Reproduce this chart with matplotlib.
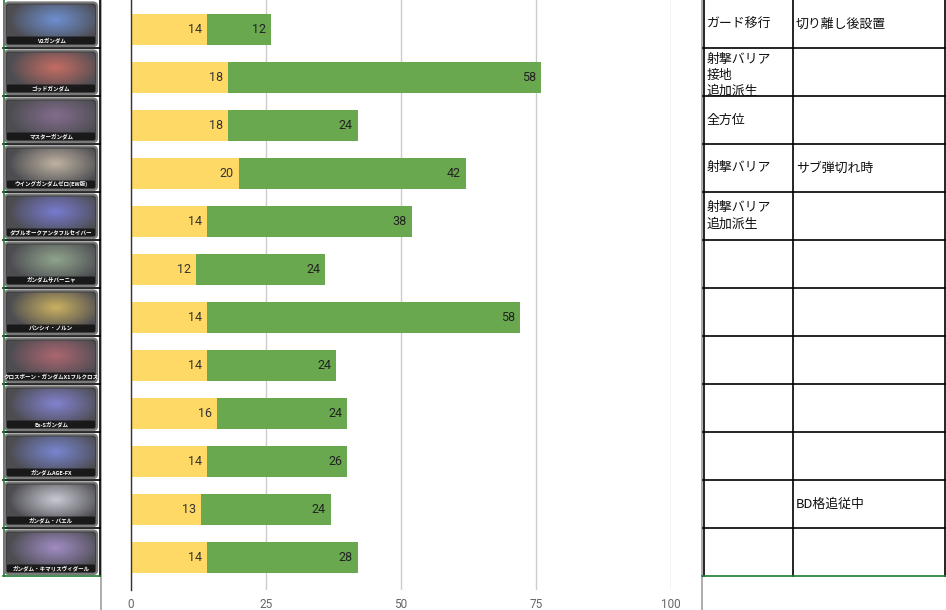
import numpy as np
import matplotlib
matplotlib.use("Agg")
import matplotlib.pyplot as plt
from matplotlib.patches import FancyBboxPatch
from matplotlib.transforms import Bbox

# ---------------- data ----------------
units = ["V2ガンダム", "ゴッドガンダム", "マスターガンダム", "ウイングガンダムゼロ(EW版)",
         "ダブルオークアンタフルセイバー", "ガンダムサバーニャ", "バンシィ・ノルン",
         "クロスボーン・ガンダムX1フルクロス", "Ex-Sガンダム", "ガンダムAGE-FX",
         "ガンダム・バエル", "ガンダム・キマリスヴィダール"]
yellow_vals = [14, 18, 18, 20, 14, 12, 14, 14, 16, 14, 13, 14]
green_vals = [12, 58, 24, 42, 38, 24, 58, 24, 24, 26, 24, 28]
x_ticks = [0, 25, 50, 75, 100]
note_col1 = ["ガード移行", "射撃バリア\n接地\n追加派生", "全方位", "射撃バリア", "射撃バリア\n追加派生",
             "", "", "", "", "", "", ""]
note_col2 = ["切り離し後設置", "", "", "サブ弾切れ時", "", "", "", "", "", "", "BD格追従中", ""]

# thumbnail tints (style only)
tints = ["#3b6fd0", "#c0392b", "#5a3a6a", "#b7a48a", "#4a4fd0", "#6f8f6a",
         "#c9a227", "#9a3040", "#5a5ad0", "#4a60d0", "#c8c8d8", "#8a6ac0"]

W, H = 946, 610
fig = plt.figure(figsize=(W / 100, H / 100), dpi=100)
fig.patch.set_facecolor("white")

YELLOW = "#FFD966"
GREEN = "#6AA84F"
ROW = 48.0
n = len(units)

# ---------------- bar chart ----------------
ax_left, ax_right, ax_top, ax_bot = 131, 671, 0, 590
ax = fig.add_axes([ax_left / W, (H - ax_bot) / H, (ax_right - ax_left) / W, (ax_bot - ax_top) / H])
ax.set_xlim(0, 100)
ytop = -29.5 / ROW
ax.set_ylim(ytop + (ax_bot - ax_top) / ROW, ytop)
ypos = np.arange(n)
bh = 31 / ROW
ax.barh(ypos, yellow_vals, height=bh, color=YELLOW, zorder=2)
ax.barh(ypos, green_vals, left=yellow_vals, height=bh, color=GREEN, zorder=2)
for i in range(n):
    ax.annotate(str(yellow_vals[i]), (yellow_vals[i], ypos[i]), xytext=(-3.6, 0),
                textcoords="offset points", ha="right", va="center",
                fontsize=9, color="#333333", family="Roboto", zorder=3)
    tot = yellow_vals[i] + green_vals[i]
    ax.annotate(str(green_vals[i]), (tot, ypos[i]), xytext=(-3.6, 0),
                textcoords="offset points", ha="right", va="center",
                fontsize=9, color="#222222", family="Roboto", zorder=3)
ax.set_xticks(x_ticks)
ax.set_xticklabels([str(t) for t in x_ticks], fontsize=8.5, color="#666666", family="Roboto")
ax.tick_params(axis="x", length=0, pad=6)
ax.set_yticks([])
for s in ["top", "right", "bottom"]:
    ax.spines[s].set_visible(False)
ax.spines["left"].set_color("#333333")
ax.spines["left"].set_linewidth(1)
ax.grid(axis="x", color="#cccccc", linewidth=1, zorder=0)
ax.set_axisbelow(True)
ax.set_facecolor("none")

# ---------------- overlay (tables) ----------------
ov = fig.add_axes([0, 0, 1, 1])
ov.set_xlim(0, W)
ov.set_ylim(H, 0)
ov.axis("off")
ov.set_facecolor("none")

# chart frame borders (gray)
ov.plot([100.5, 100.5], [0, H], color="#9e9e9e", lw=1.2)
ov.plot([701.5, 701.5], [0, H], color="#9e9e9e", lw=1.2)

table_bottom = ROW * n
# left table
for k in range(1, n):
    ov.plot([3, 100], [ROW * k, ROW * k], color="black", lw=1.2)
ov.plot([99.5, 99.5], [0, table_bottom], color="black", lw=1.2)
ov.plot([3.5, 3.5], [0, table_bottom], color="#1e7b34", lw=1.2)
ov.plot([3, 100], [table_bottom, table_bottom], color="#1e7b34", lw=1.2)

# thumbnails
yy, xx = np.mgrid[0:40, 0:92]
for i in range(n):
    top = ROW * i
    x0, x1 = 5, 97
    y0, y1 = top + 2.5, top + 46
    frame = FancyBboxPatch((x0, y0), x1 - x0, y1 - y0,
                           boxstyle="round,pad=0,rounding_size=4",
                           facecolor="#3a3a3a", edgecolor="#7a7a7a", lw=1.6, zorder=4)
    ov.add_patch(frame)
    tint = np.array(matplotlib.colors.to_rgb(tints[i]))
    cx, cy = 50, 15
    d = np.sqrt(((xx - cx) / 48) ** 2 + ((yy - cy) / 24) ** 2)
    w = np.clip(1.0 - d, 0, 1) ** 0.9
    base = np.array([0.30, 0.30, 0.32])
    hi = 0.65 * tint + 0.28
    img = base[None, None, :] * (1 - w[..., None]) + hi[None, None, :] * w[..., None]
    img = np.clip(img, 0, 1)
    im = ov.imshow(img, extent=(x0 + 2, x1 - 2, y1 - 2, y0 + 2), zorder=5,
                   interpolation="bilinear", aspect="auto")
    inner = FancyBboxPatch((x0 + 2, y0 + 2), x1 - x0 - 4, y1 - y0 - 4,
                           boxstyle="round,pad=0,rounding_size=3",
                           facecolor="none", edgecolor="none", transform=ov.transData)
    ov.add_patch(inner)
    im.set_clip_path(inner)
    strip = FancyBboxPatch((x0 + 2, y1 - 9.5), (x1 - x0) - 4, 7.5,
                           boxstyle="round,pad=0,rounding_size=1",
                           facecolor="#111111", edgecolor="none", alpha=0.85, zorder=6)
    ov.add_patch(strip)
    ov.text((x0 + x1) / 2, y1 - 5.8, units[i], ha="center", va="center", fontsize=4,
            color="white", fontweight="bold", family=["Noto Sans CJK JP", "DejaVu Sans"], zorder=7)

# right table
for k in range(1, n):
    ov.plot([703, 945], [ROW * k, ROW * k], color="black", lw=1.2)
for xv in [703.5, 792.5, 944.5]:
    ov.plot([xv, xv], [0, table_bottom], color="black", lw=1.2)
ov.plot([702, 946], [table_bottom, table_bottom], color="#1e7b34", lw=1.2)

cjk = ["Noto Sans CJK JP", "DejaVu Sans"]
LINE_PX = 16.5
for i in range(n):
    top = ROW * i
    for col_x0, col_x1, txt in [(703.5, 792.5, note_col1[i]), (792.5, 944.5, note_col2[i])]:
        if not txt:
            continue
        nl = txt.count("\n") + 1
        if nl * LINE_PX > ROW - 2:
            ycen = top + 11 + (nl - 1) * LINE_PX / 2
        else:
            ycen = top + ROW / 2
        t = ov.text(col_x0 + 3.5, ycen, txt, ha="left", va="center", fontsize=9.3,
                    color="#111111", family=cjk, linespacing=1.32, zorder=8)
        p0 = ov.transData.transform((col_x0, top + ROW - 0.5))
        p1 = ov.transData.transform((col_x1, top))
        t.set_clip_box(Bbox([p0, p1]))
        t.set_clip_on(True)

fig.savefig("out.png", dpi=100, facecolor="white")
